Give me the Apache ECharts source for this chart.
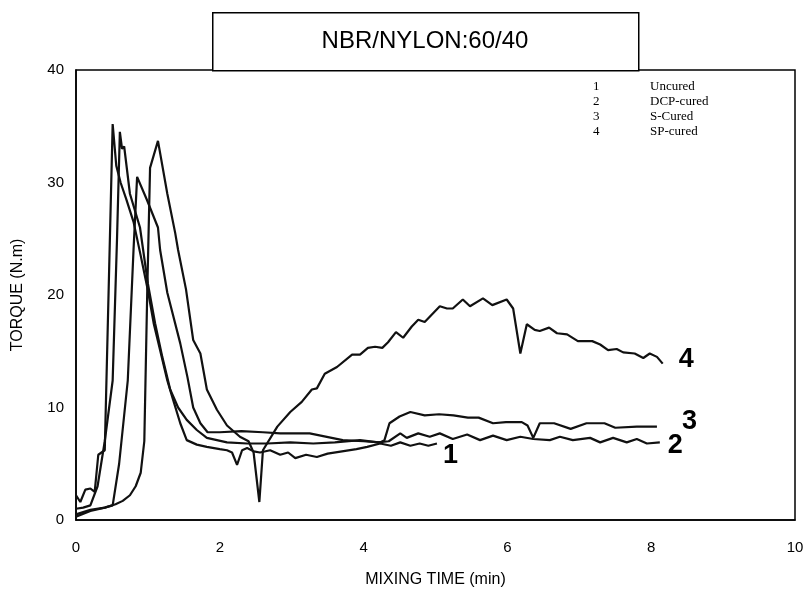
<!DOCTYPE html>
<html>
<head>
<meta charset="utf-8">
<script src="https://cdn.jsdelivr.net/npm/echarts@6/dist/echarts.min.js"></script>
<style>
  html, body { margin: 0; padding: 0; background: #fff; }
  #chart { width: 812px; height: 609px; }
</style>
</head>
<body>
<div id="chart"></div>
<script>
// mixing time (min) / torque (N.m)
const uncuredTime = [0, 0.06, 0.13, 0.2, 0.26, 0.31, 0.4, 0.51, 0.56, 0.62, 0.7, 0.8, 0.9, 1.0, 1.08, 1.17, 1.27, 1.35, 1.45, 1.54, 1.68, 1.82, 2.0, 2.1, 2.17, 2.24, 2.31, 2.38, 2.47, 2.56, 2.7, 2.84, 2.95, 3.05, 3.2, 3.35, 3.5, 3.7, 3.9, 4.05, 4.23, 4.38, 4.51, 4.65, 4.78, 4.9, 5.02]
const uncuredTorque = [2.2, 1.6, 2.7, 2.8, 2.5, 5.8, 6.2, 35.2, 31.5, 30, 28.5, 26.5, 23.5, 20.4, 17.5, 15.1, 12.4, 10.7, 8.6, 7.1, 6.7, 6.5, 6.3, 6.2, 6.0, 4.9, 6.2, 6.4, 6.1, 6.0, 6.2, 5.8, 6.0, 5.5, 5.8, 5.6, 5.9, 6.1, 6.3, 6.5, 6.8, 6.6, 6.9, 6.6, 6.8, 6.6, 6.8]

const dcpTime = [0, 0.1, 0.2, 0.3, 0.4, 0.51, 0.57, 0.61, 0.64, 0.67, 0.75, 0.89, 1.0, 1.1, 1.2, 1.31, 1.42, 1.54, 1.68, 1.82, 2.1, 2.38, 2.66, 2.98, 3.3, 3.6, 3.95, 4.2, 4.35, 4.51, 4.6, 4.76, 4.92, 5.06, 5.24, 5.44, 5.62, 5.8, 5.99, 6.18, 6.36, 6.59, 6.73, 6.91, 7.15, 7.29, 7.47, 7.66, 7.8, 7.94, 8.12]
const dcpTorque = [1.0, 1.1, 1.3, 3, 7, 12.4, 24.9, 34.5, 33, 33.2, 29, 26, 21, 17.5, 14.5, 11.6, 10, 8.9, 8.0, 7.3, 6.9, 6.8, 6.8, 6.9, 6.8, 6.9, 7.1, 6.9, 7.0, 7.7, 7.3, 7.7, 7.4, 7.7, 7.2, 7.6, 7.1, 7.5, 7.1, 7.4, 7.2, 7.1, 7.4, 7.1, 7.3, 6.9, 7.3, 6.9, 7.2, 6.8, 6.9]

const sTime = [0, 0.2, 0.4, 0.51, 0.6, 0.72, 0.8, 0.85, 0.99, 1.14, 1.17, 1.27, 1.45, 1.55, 1.63, 1.73, 1.83, 2.0, 2.3, 2.6, 2.84, 3.25, 3.71, 4.0, 4.23, 4.29, 4.36, 4.5, 4.65, 4.85, 5.05, 5.25, 5.45, 5.6, 5.8, 5.98, 6.2, 6.28, 6.36, 6.45, 6.65, 6.88, 7.1, 7.35, 7.5, 7.8, 8.08]
const sTorque = [0.5, 0.9, 1.1, 1.3, 5, 12.4, 24, 30.5, 28.4, 26, 24, 20.2, 15.7, 12.7, 10, 8.6, 7.8, 7.8, 7.9, 7.8, 7.7, 7.7, 7.1, 7.0, 6.9, 7.1, 8.6, 9.2, 9.6, 9.3, 9.4, 9.3, 9.1, 9.1, 8.6, 8.7, 8.7, 8.4, 7.3, 8.6, 8.6, 8.1, 8.6, 8.6, 8.2, 8.3, 8.3]

const spTime = [0, 0.2, 0.4, 0.55, 0.65, 0.75, 0.83, 0.9, 0.95, 0.99, 1.03, 1.14, 1.27, 1.38, 1.42, 1.53, 1.63, 1.73, 1.82, 1.96, 2.1, 2.28, 2.4, 2.47, 2.55, 2.6, 2.8, 2.98, 3.14, 3.28, 3.35, 3.46, 3.63, 3.84, 3.95, 4.06, 4.16, 4.26, 4.34, 4.45, 4.55, 4.67, 4.76, 4.85, 5.06, 5.16, 5.24, 5.38, 5.48, 5.66, 5.79, 5.99, 6.08, 6.18, 6.27, 6.38, 6.45, 6.58, 6.69, 6.83, 6.98, 7.18, 7.29, 7.4, 7.52, 7.61, 7.77, 7.89, 7.98, 8.08, 8.16]
const spTorque = [0.3, 0.8, 1.1, 1.4, 1.7, 2.2, 3.0, 4.2, 7, 20, 31.3, 33.7, 29, 25.5, 24, 20.5, 16, 14.8, 11.6, 9.8, 8.4, 7.4, 7.0, 6.0, 1.6, 6.2, 8.3, 9.6, 10.5, 11.6, 11.7, 13.0, 13.6, 14.7, 14.7, 15.3, 15.4, 15.3, 15.8, 16.7, 16.2, 17.2, 17.8, 17.6, 19.0, 18.8, 18.8, 19.6, 19.0, 19.7, 19.1, 19.6, 18.8, 14.8, 17.4, 16.9, 16.8, 17.1, 16.6, 16.5, 15.9, 15.9, 15.6, 15.1, 15.2, 14.9, 14.8, 14.4, 14.8, 14.5, 13.9]

const curveNumbers = ['1', '2', '3', '4']
const curveNames = ['Uncured', 'DCP-cured', 'S-Cured', 'SP-cured']
const xTicks = [0, 2, 4, 6, 8, 10]
const yTicks = [0, 10, 20, 30, 40]

const chart = echarts.init(document.getElementById('chart'), null, { renderer: 'canvas' })

const pairs = (ts, vs) => ts.map((t, i) => [t, vs[i]])
const font = 'Liberation Sans, Arial, sans-serif'

// where each end number sits relative to its line end
const endOffsets = [[-2, 12], [0, 3], [17, -5], [8, -4]]

function makeSeries(name, data, idx) {
  return {
    name: name,
    type: 'line',
    data: data,
    showSymbol: false,
    silent: true,
    animation: false,
    lineStyle: { color: '#111', width: 2.2 },
    endLabel: {
      show: true,
      formatter: curveNumbers[idx],
      color: '#000',
      fontFamily: font,
      fontWeight: 'bold',
      fontSize: 27,
      offset: endOffsets[idx]
    }
  }
}

const legendGraphics = []
curveNumbers.forEach((n, i) => {
  legendGraphics.push({
    type: 'text', left: 593, top: 80 + i * 15,
    style: { text: n, font: '13px "Liberation Serif", serif', fill: '#000' }
  })
  legendGraphics.push({
    type: 'text', left: 650, top: 80 + i * 15,
    style: { text: curveNames[i], font: '13px "Liberation Serif", serif', fill: '#000' }
  })
})

chart.setOption({
  backgroundColor: '#fff',
  animation: false,
  grid: {
    left: 76, right: 17, top: 70, bottom: 89,
    show: true, borderColor: '#000', borderWidth: 1.5
  },
  xAxis: {
    type: 'value', min: xTicks[0], max: xTicks[xTicks.length - 1], interval: 2,
    name: 'MIXING TIME (min)', nameLocation: 'middle', nameGap: 52,
    nameTextStyle: { color: '#000', fontSize: 16, fontFamily: font },
    axisLine: { show: true, lineStyle: { color: '#000', width: 1.5 } },
    axisTick: { show: false },
    splitLine: { show: false },
    axisLabel: { color: '#000', fontSize: 15, fontFamily: font, margin: 20 }
  },
  yAxis: {
    type: 'value', min: yTicks[0], max: yTicks[yTicks.length - 1], interval: 10,
    name: 'TORQUE (N.m)', nameLocation: 'middle', nameGap: 50,
    nameTextStyle: { color: '#000', fontSize: 16, fontFamily: font },
    axisLine: { show: true, lineStyle: { color: '#000', width: 1.5 } },
    axisTick: { show: false },
    splitLine: { show: false },
    axisLabel: { color: '#000', fontSize: 15, fontFamily: font, margin: 12 }
  },
  graphic: [
    {
      type: 'rect', left: 212, top: 12,
      shape: { width: 426, height: 58 },
      style: { fill: '#fff', stroke: '#000', lineWidth: 1.5 }
    },
    {
      type: 'text', x: 425, y: 41,
      style: {
        text: 'NBR/NYLON:60/40', font: '24px "Liberation Sans", Arial, sans-serif',
        fill: '#000', align: 'center', verticalAlign: 'middle'
      }
    }
  ].concat(legendGraphics),
  series: [
    makeSeries('Uncured', pairs(uncuredTime, uncuredTorque), 0),
    makeSeries('DCP-cured', pairs(dcpTime, dcpTorque), 1),
    makeSeries('S-Cured', pairs(sTime, sTorque), 2),
    makeSeries('SP-cured', pairs(spTime, spTorque), 3)
  ]
})
</script>
</body>
</html>
